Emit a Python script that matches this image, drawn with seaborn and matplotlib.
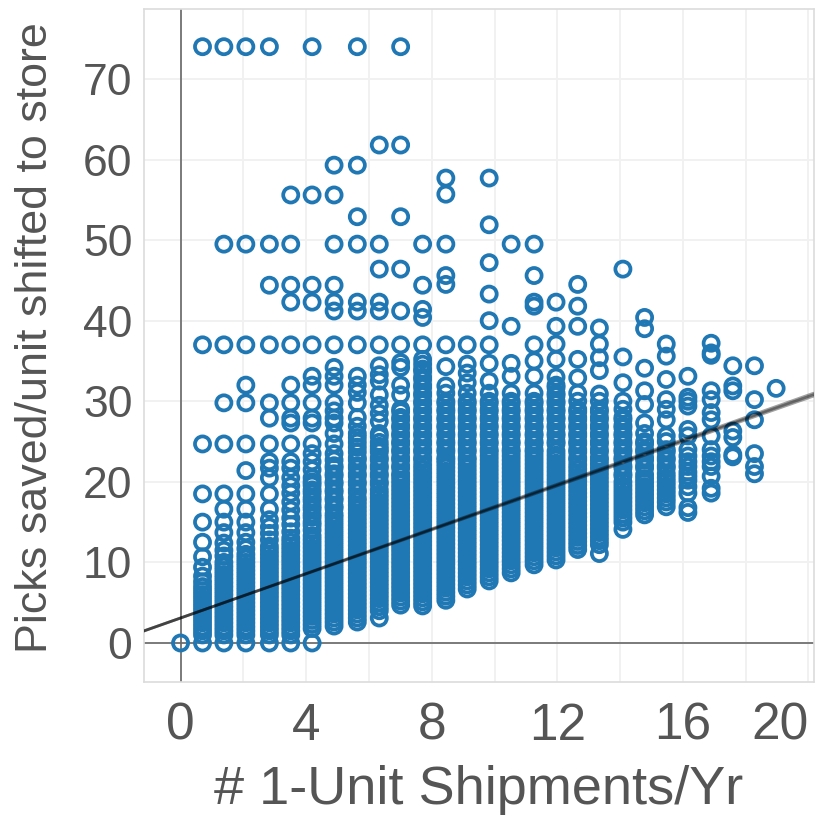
import pandas as pd
import seaborn as sns
import matplotlib.pyplot as plt

# shipment columns
col_x = [0, 0.70, 1.38, 2.08, 2.83, 3.51, 4.19, 4.89, 5.63, 6.33, 7.01, 7.71, 8.45, 9.13, 9.83,
         10.53, 11.26, 11.96, 12.65, 13.34, 14.09, 14.78, 15.47, 16.16, 16.90, 17.59, 18.28, 18.97]

# picks saved per column
c00 = [0]
c01 = [0, 1, 1.5, 2, 2.5, 3, 3.5, 4, 4.5, 5, 5.5, 6, 6.5, 7, 7.6, 8.3, 9.4, 10.7, 12.5, 15, 18.5, 24.7, 37, 74]
c02 = [0, 1, 1.5, 2, 2.5, 3, 3.5, 4, 4.5, 5, 5.5, 6, 6.5, 7, 7.5, 8, 8.5, 9, 9.5, 10, 10.8, 11.5, 12.4, 13.7, 15,
       16.6, 18.5, 24.7, 29.8, 37, 49.5, 74]
c03 = [0, 1, 1.5, 2, 2.5, 3, 3.5, 4, 4.5, 5, 5.5, 6, 6.5, 7, 7.5, 8, 8.5, 9, 9.5, 10, 10.5, 11, 11.7, 12.5, 13.7,
       15, 16.6, 18.5, 21.4, 24.7, 29.8, 32, 37, 49.5, 74]
c04 = [0, 1, 1.5, 2, 2.5, 3, 3.5, 4, 4.5, 5, 5.5, 6, 6.5, 7, 7.5, 8, 8.5, 9, 9.5, 10, 10.5, 11, 11.5, 12, 12.8, 13.6,
       14.4, 15.3, 16.6, 18.5, 20.5, 21.7, 22.5, 24.7, 27.9, 29.8, 37, 44.4, 49.5, 74]
c05 = [0, 1, 1.5, 2, 2.5, 3, 3.5, 4, 4.5, 5, 5.5, 6, 6.5, 7, 7.5, 8, 8.5, 9, 9.5, 10, 10.5, 11, 11.5, 12, 12.5, 13,
       13.8, 14.7, 15.5, 16.5, 17.5, 18.6, 19.5, 20.5, 21.7, 22.5, 24.7, 27.3, 27.9, 29.8, 32, 37, 42.3, 44.4,
       49.5, 55.6]
c06 = [0, 1.8, 2.3, 2.8, 3.3, 3.8, 4.3, 4.8, 5.3, 5.8, 6.3, 6.8, 7.3, 7.8, 8.3, 8.8, 9.3, 9.8, 10.3, 10.8, 11.3,
       11.8, 12.3, 12.8, 13.3, 14, 15, 16, 17, 18, 19, 20, 20.5, 21.5, 22.5, 23.5, 24.7, 27.3, 27.9, 29.8, 32,
       33.1, 37, 42.3, 44.4, 55.6, 74,
       14.6, 15.6, 16.6, 17.6, 18.6, 19.6]
c07 = [2.1, 2.6, 3.1, 3.6, 4.1, 4.6, 5.1, 5.6, 6.1, 6.6, 7.1, 7.6, 8.1, 8.6, 9.1, 9.6, 10.1, 10.6, 11.1, 11.6, 12.1,
       12.6, 13.1, 13.6, 14.1, 14.6, 15.1, 15.6, 16, 17, 18, 19, 20, 21, 22, 22.7, 23.5, 24.7, 26, 27.3, 27.9,
       28.8, 29.8, 32, 33.1, 34.2, 37, 41.2, 42.3, 44.4, 49.5, 55.6, 59.3,
       16.7, 17.7, 18.7, 19.7, 20.7, 21.7]
c08 = [2.6, 3.1, 3.6, 4.1, 4.6, 5.1, 5.6, 6.1, 6.6, 7.1, 7.6, 8.1, 8.6, 9.1, 9.6, 10.1, 10.6, 11.1, 11.6, 12.1, 12.6,
       13.1, 13.6, 14.1, 14.6, 15.1, 15.6, 16.1, 16.6, 17.1, 17.6, 18, 19, 20, 21, 22, 23, 23.7, 24.9, 26, 26.9,
       28, 29.8, 31.1, 32, 33.1, 37, 41.2, 42.3, 49.5, 52.9, 59.3, 74,
       18.7, 19.7, 20.7, 21.7, 22.7, 24.3, 25.5]
c09 = [3.1, 4, 4.5, 5, 5.5, 6, 6.5, 7, 7.5, 8, 8.5, 9, 9.5, 10, 10.5, 11, 11.5, 12, 12.5, 13, 13.5, 14, 14.5, 15,
       15.5, 16, 16.5, 17, 17.5, 18, 18.5, 19, 20, 21, 22, 23, 24, 24.9, 26, 27.5, 28.5, 29.5, 30.8, 32.5, 33.3,
       34.4, 37, 41.2, 42.3, 46.4, 49.5, 61.8,
       19.7, 20.7, 21.7, 22.7, 23.7, 24.4, 25.6]
c10 = [4.7, 5.2, 5.7, 6.2, 6.7, 7.2, 7.7, 8.2, 8.7, 9.2, 9.7, 10.2, 10.7, 11.2, 11.7, 12.2, 12.7, 13.2, 13.7, 14.2,
       14.7, 15.2, 15.7, 16.2, 16.7, 17.2, 17.7, 18.2, 18.7, 19.2, 19.7, 20.2, 21, 22, 23, 24, 25, 26, 27, 28, 29,
       30.8, 32, 34.2, 34.8, 37, 41.2, 46.4, 52.9, 61.8, 74,
       20.7, 21.7, 22.7, 23.7, 24.7, 25.7, 26.7, 27.7, 28.7]
c11 = [4.6, 5.1, 5.6, 6.1, 6.6, 7.1, 7.6, 8.1, 8.6, 9.1, 9.6, 10.1, 10.6, 11.1, 11.6, 12.1, 12.6, 13.1, 13.6, 14.1,
       14.6, 15.1, 15.6, 16.1, 16.6, 17.1, 17.6, 18.1, 18.6, 19.1, 19.6, 20.1, 20.6, 21.1, 21.6, 22.1, 23, 24, 25,
       26, 27, 28, 29, 30, 31, 32, 33, 34, 34.6, 35.2, 37, 40.4, 41.4, 44.4, 49.5,
       22.7, 23.7, 24.7, 25.7, 26.7, 27.7, 28.7, 29.7, 30.7, 31.7, 32.7, 33.7]
c12 = [5.3, 5.8, 6.3, 6.8, 7.3, 7.8, 8.3, 8.8, 9.3, 9.8, 10.3, 10.8, 11.3, 11.8, 12.3, 12.8, 13.3, 13.8, 14.3, 14.8,
       15.3, 15.8, 16.3, 16.8, 17.3, 17.8, 18.3, 18.8, 19.3, 19.8, 20.3, 20.8, 21.3, 21.8, 22.3, 23, 24, 25, 26,
       27, 28, 29, 30, 31, 31.9, 34.3, 37, 44.5, 45.6, 49.5, 55.7, 57.7,
       22.7, 23.7, 24.7, 25.7, 26.7, 27.7, 28.7, 29.7]
c13 = [6.7, 7.2, 7.7, 8.2, 8.7, 9.2, 9.7, 10.2, 10.7, 11.2, 11.7, 12.2, 12.7, 13.2, 13.7, 14.2, 14.7, 15.2, 15.7, 16.2,
       16.7, 17.2, 17.7, 18.2, 18.7, 19.2, 19.7, 20.2, 20.7, 21.2, 21.7, 22.2, 23, 24, 25, 26, 27, 28, 29, 30, 31,
       32.3, 33.5, 34.6, 37,
       22.7, 23.7, 24.7, 25.7, 26.7, 27.7, 28.7, 29.7]
c14 = [7.7, 8.2, 8.7, 9.2, 9.7, 10.2, 10.7, 11.2, 11.7, 12.2, 12.7, 13.2, 13.7, 14.2, 14.7, 15.2, 15.7, 16.2, 16.7,
       17.2, 17.7, 18.2, 18.7, 19.2, 19.7, 20.2, 20.7, 21.2, 21.7, 22.2, 22.7, 23.2, 24, 25, 26, 27, 28, 29, 30, 31,
       32.5, 34.7, 37, 40, 43.3, 47.2, 51.9, 57.7,
       23.7, 24.7, 25.7, 26.7, 27.7, 28.7, 29.7]
c15 = [8.7, 9.2, 9.7, 10.2, 10.7, 11.2, 11.7, 12.2, 12.7, 13.2, 13.7, 14.2, 14.7, 15.2, 15.7, 16.2, 16.7, 17.2, 17.7,
       18.2, 18.7, 19.2, 19.7, 20.2, 20.7, 21.2, 21.7, 22.2, 22.7, 23.2, 24, 25, 26, 27, 28, 29, 30, 31, 33.1, 34.7,
       39.3, 49.5,
       23.7, 24.7, 25.7, 26.7, 27.7, 28.7, 29.7]
c16 = [9.7, 10.2, 10.7, 11.2, 11.7, 12.2, 12.7, 13.2, 13.7, 14.2, 14.7, 15.2, 15.7, 16.2, 16.7, 17.2, 17.7, 18.2, 18.7,
       19.2, 19.7, 20.2, 20.7, 21.2, 21.7, 22.2, 22.7, 23.2, 24, 25, 26, 27, 28, 29, 30, 31, 33.1, 35, 37, 41.8,
       42.3, 45.6, 49.5,
       23.7, 24.7, 25.7, 26.7, 27.7, 28.7, 29.7]
c17 = [10.3, 10.8, 11.3, 11.8, 12.3, 12.8, 13.3, 13.8, 14.3, 14.8, 15.3, 15.8, 16.3, 16.8, 17.3, 17.8, 18.3, 18.8,
       19.3, 19.8, 20.3, 20.8, 21.3, 21.8, 22.3, 22.8, 23.3, 23.8, 25, 26, 27, 28, 29, 30, 31, 32, 33, 35.2, 37.1,
       39.3, 42.3,
       24.7, 25.7, 26.7, 27.7, 28.7, 29.7, 30.7, 31.7]
c18 = [11.6, 12.1, 12.6, 13.1, 13.6, 14.1, 14.6, 15.1, 15.6, 16.1, 16.6, 17.1, 17.6, 18.1, 18.6, 19.1, 19.6, 20.1,
       20.6, 21.1, 21.6, 22.1, 23, 24, 25, 26, 27, 28, 29, 30, 31, 32.9, 35.2, 39.3, 41.8, 44.5,
       22.7, 23.7, 24.7, 25.7, 26.7, 27.7, 28.7]
c19 = [11.1, 12.2, 12.7, 13.2, 13.7, 14.2, 14.7, 15.2, 15.7, 16.2, 16.7, 17.2, 17.7, 18.2, 18.7, 19.2, 19.7, 20.2,
       20.7, 21.2, 21.7, 22.2, 23, 24, 25, 26, 27, 28, 29, 30, 30.9, 33.8, 35.4, 37.1, 39.1,
       22.7, 23.7, 24.7, 25.7, 26.7, 27.7, 28.7]
c20 = [14.1, 15, 15.5, 16, 16.5, 17, 17.5, 18, 18.5, 19, 19.5, 20, 21, 22, 23, 24, 25, 26, 27, 28, 29, 30, 32.3, 35.5,
       46.4,
       20.7, 21.7, 22.7, 23.7, 24.7, 25.7, 26.7, 27.7]
c21 = [15.9, 16.4, 16.9, 17.4, 17.9, 18.4, 18.9, 19.4, 19.9, 20.4, 20.9, 22, 23, 24, 25, 26, 27.3, 29.6, 31.3, 34.1,
       39, 40.4,
       21.7, 22.7, 23.7, 24.7]
c22 = [16.9, 17.5, 18, 18.5, 19, 19.5, 20, 20.5, 21, 22, 23, 24, 25, 25.7, 27.7, 29, 30.2, 32.7, 35.6, 37.1,
       21.7, 22.7, 23.7]
c23 = [16.2, 16.8, 18.6, 19.4, 20.2, 20.7, 21.2, 21.9, 22.5, 23.2, 24, 25.7, 26.5, 29.4, 30, 30.5, 33.1]
c24 = [18.6, 19.2, 20.7, 21.9, 22.5, 23.2, 24, 25.7, 27.7, 28.6, 30.2, 31.3, 35.7, 36, 37.2]
c25 = [23.1, 23.4, 25.5, 26.3, 31.3, 31.9, 34.4]
c26 = [21, 21.9, 23.5, 27.7, 30.2, 34.4]
c27 = [31.6]

picks_cols = [c00, c01, c02, c03, c04, c05, c06, c07, c08, c09, c10, c11, c12, c13, c14,
              c15, c16, c17, c18, c19, c20, c21, c22, c23, c24, c25, c26, c27]

# the three fit lines
fit_intercepts = [3.10, 3.10, 3.10]
fit_slopes = [1.366, 1.375, 1.384]

x_ticks = [0, 2, 4, 6, 8, 10, 12, 14, 16, 18, 20]
x_labels = ['0', '', '4', '', '8', '', '12', '', '16', '', '20']
y_ticks = [0, 10, 20, 30, 40, 50, 60, 70]

rows = []
for x, vals in zip(col_x, picks_cols):
    for v in vals:
        rows.append((x, v))
df = pd.DataFrame(rows, columns=['ship', 'picks'])

sns.set_style('whitegrid')
plt.rcParams['font.family'] = ['Liberation Sans', 'DejaVu Sans']

fig = plt.figure(figsize=(8.17, 8.18), dpi=100)
ax = fig.add_axes([143.5 / 817, 1 - 681.5 / 818, 670 / 817, 672.5 / 818])

ax.axhline(0, color='#666666', lw=1.2, zorder=2)
ax.axvline(0, color='#666666', lw=1.2, zorder=2)

sns.scatterplot(data=df, x='ship', y='picks', ax=ax, s=118, facecolor='none', edgecolor='#1f77b4',
                linewidth=2.7, zorder=3, clip_on=False)

for a, b in zip(fit_intercepts, fit_slopes):
    ax.axline((0, a), slope=b, color='black', lw=2.0, alpha=0.36, zorder=4)

ax.set_xlim(-1.18, 20.16)
ax.set_ylim(-4.78, 78.68)
ax.set_xticks(x_ticks)
ax.set_xticklabels(x_labels)
ax.set_yticks(y_ticks)
ax.grid(True, color='#f1f1f1', lw=1.4)
ax.set_axisbelow(True)
for sp in ax.spines.values():
    sp.set_color('#dcdcdc')
    sp.set_linewidth(1.2)
ax.tick_params(axis='both', length=4.5, width=0.9, color='#cccccc', labelcolor='#555555')
ax.tick_params(axis='x', labelsize=37, pad=10)
ax.tick_params(axis='y', labelsize=32, pad=3.5)
ax.get_xticklabels()[-1].set_ha('right')
ax.set_xlabel('# 1-Unit Shipments/Yr', fontsize=39, color='#555555')
ax.set_ylabel('Picks saved/unit shifted to store', fontsize=32.3, color='#555555')
ax.xaxis.set_label_coords(0.5, -0.124)
ax.yaxis.set_label_coords(-0.131, 0.512)

fig.savefig('out.png', dpi=100)
